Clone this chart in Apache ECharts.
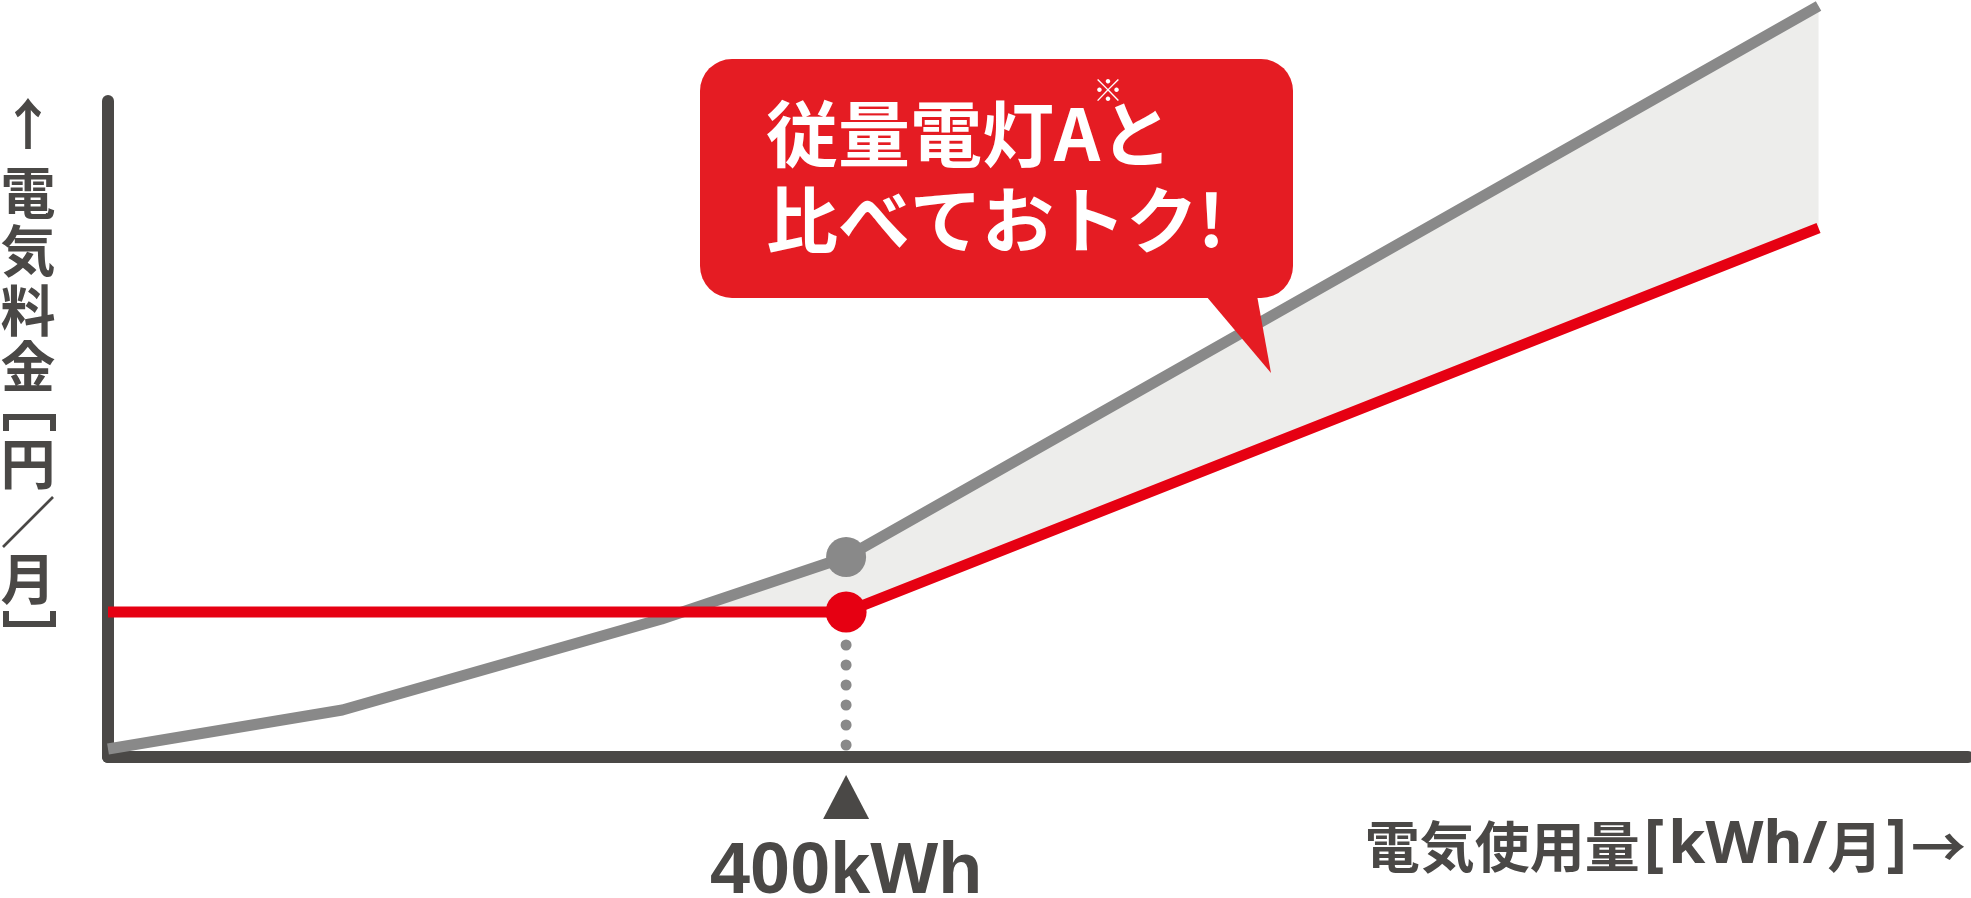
<!DOCTYPE html>
<html>
<head>
<meta charset="utf-8">
<title>電気料金の比較</title>
<script src="https://cdn.jsdelivr.net/npm/echarts@6/dist/echarts.min.js"></script>
<style>
html,body{margin:0;padding:0;background:#fff;}
#chart{width:1971px;height:898px;}
</style>
</head>
<body>
<div id="chart"></div>
<script>
//電気使用量 [kWh/月]（横軸）と料金（縦軸・相対値）
//従量電灯A
var grayKwh = [0, 127, 300, 400, 927];
var grayYen = [8, 47, 138, 200, 751];
//本プラン
var redKwh = [0, 400, 927];
var redYen = [145, 145, 529];
//目印の使用量
var markKwh = 400;
//二本の線が交わる点
var crossPoint = [311, 145];
//軸の範囲
var xMax = 1008;
var yMax = 656;

var AXIS = "#4a4846";
var GRAY = "#898989";
var RED = "#e60012";
var BUBBLE = "#e51c23";
var CJK = '"Noto Sans CJK JP"';

function zip(xs, ys) {
    return xs.map(function (x, i) { return [x, ys[i]]; });
}

var grayData = zip(grayKwh, grayYen);
var redData = zip(redKwh, redYen);

/*縦軸タイトル（縦書き）*/
function yTitle() {
    var chars = ["↑", "電", "気", "料", "金", "円", "／", "月"];
    var cy = [123, 192, 250, 310, 366, 463, 521, 578];
    var list = chars.map(function (c, i) {
        return {
            type: "text", x: 28, y: cy[i],
            style: {
                text: c, fill: AXIS, fontFamily: CJK, fontWeight: "bold",
                fontSize: 55, align: "center", verticalAlign: "middle"
            }
        };
    });
    //かっこ
    list.push({
        type: "polyline",
        shape: {points: [[6, 431], [6, 417], [53, 417], [53, 431]]},
        style: {stroke: AXIS, lineWidth: 6, fill: null}
    });
    list.push({
        type: "polyline",
        shape: {points: [[6, 611], [6, 624], [53, 624], [53, 611]]},
        style: {stroke: AXIS, lineWidth: 6, fill: null}
    });
    return list;
}

/*吹き出し*/
function bubble() {
    return [
        {type: "rect", z: 100, shape: {x: 700, y: 59, width: 593, height: 239, r: 32}, style: {fill: BUBBLE}},
        {type: "polygon", z: 100, shape: {points: [[1201, 290], [1256, 290], [1271, 373]]}, style: {fill: BUBBLE}},
        {
            type: "text", z: 101, x: 766, y: 177,
            style: {
                text: "従量電灯Aと\n比べておトク!", fill: "#fff", fontFamily: CJK,
                fontWeight: "bold", fontSize: 72, lineHeight: 86, verticalAlign: "middle"
            }
        },
        {
            type: "text", z: 101, x: 1108, y: 90,
            style: {
                text: "※", fill: "#fff", fontFamily: CJK, fontSize: 30,
                align: "center", verticalAlign: "middle"
            }
        }
    ];
}

var myChart = echarts.init(document.getElementById("chart"));
var option = {
    animation: false,
    grid: {left: 108, right: 3, top: 101, bottom: 141, containLabel: false, outerBoundsMode: "none"},
    xAxis: {
        type: "value", min: 0, max: xMax, interval: 400,
        axisLine: {lineStyle: {color: AXIS, width: 12, cap: "round"}},
        axisTick: {show: false},
        splitLine: {show: false},
        axisLabel: {
            margin: 80,
            color: AXIS, fontFamily: "Liberation Sans", fontWeight: "bold", fontSize: 72,
            formatter: function (v) { return v === markKwh ? v + "kWh" : ""; }
        }
    },
    yAxis: {
        type: "value", min: 0, max: yMax,
        axisLine: {show: true, lineStyle: {color: AXIS, width: 12, cap: "round"}},
        axisTick: {show: false},
        axisLabel: {show: false},
        splitLine: {show: false}
    },
    series: [
        {
            //差額の部分
            type: "custom",
            silent: true,
            z: 1,
            data: [crossPoint],
            renderItem: function (params, api) {
                var top = [crossPoint].concat(grayData.filter(function (p) { return p[0] > crossPoint[0]; }));
                var bottom = redData.filter(function (p) { return p[0] > crossPoint[0]; }).reverse();
                var pts = top.concat(bottom).map(function (p) { return api.coord(p); });
                return {type: "polygon", shape: {points: pts}, style: {fill: "#ededeb"}};
            }
        },
        {
            type: "line", data: grayData, symbol: "none", clip: false, z: 2,
            lineStyle: {color: GRAY, width: 11}
        },
        {
            type: "line", data: redData, symbol: "none", clip: false, z: 3,
            lineStyle: {color: RED, width: 11}
        },
        {
            //点線と▲
            type: "line", symbol: "none", z: 4,
            data: [[markKwh, 0], [markKwh, redYen[redKwh.indexOf(markKwh)]]],
            lineStyle: {color: GRAY, width: 11, type: [0, 20], dashOffset: 8, cap: "round"},
            markPoint: {
                symbol: "triangle", symbolSize: [46, 44], symbolOffset: [0, 40],
                itemStyle: {color: AXIS}, label: {show: false},
                data: [{coord: [markKwh, 0]}]
            }
        },
        {
            type: "scatter", z: 5, symbolSize: 40,
            data: [grayData[grayKwh.indexOf(markKwh)]],
            itemStyle: {color: GRAY, opacity: 1}
        },
        {
            type: "scatter", z: 5, symbolSize: 41,
            data: [redData[redKwh.indexOf(markKwh)]],
            itemStyle: {color: RED, opacity: 1}
        }
    ],
    graphic: [
        {type: "group", children: bubble()},
        {type: "group", children: yTitle()},
        //横軸タイトル
        {
            type: "text", x: 1966, y: 846,
            style: {
                text: "{j|電気使用量}{b|[}{l|kWh/}{j|月}{b|]}{j|→}",
                align: "right", verticalAlign: "middle",
                rich: {
                    j: {fill: AXIS, fontFamily: CJK, fontWeight: "bold", fontSize: 55},
                    l: {fill: AXIS, fontFamily: "Noto Sans", fontWeight: "bold", fontSize: 60},
                    b: {fill: AXIS, fontFamily: "Noto Sans", fontWeight: "bold", fontSize: 62, padding: [0, 4]}
                }
            }
        }
    ]
};
myChart.setOption(option);
</script>
</body>
</html>
